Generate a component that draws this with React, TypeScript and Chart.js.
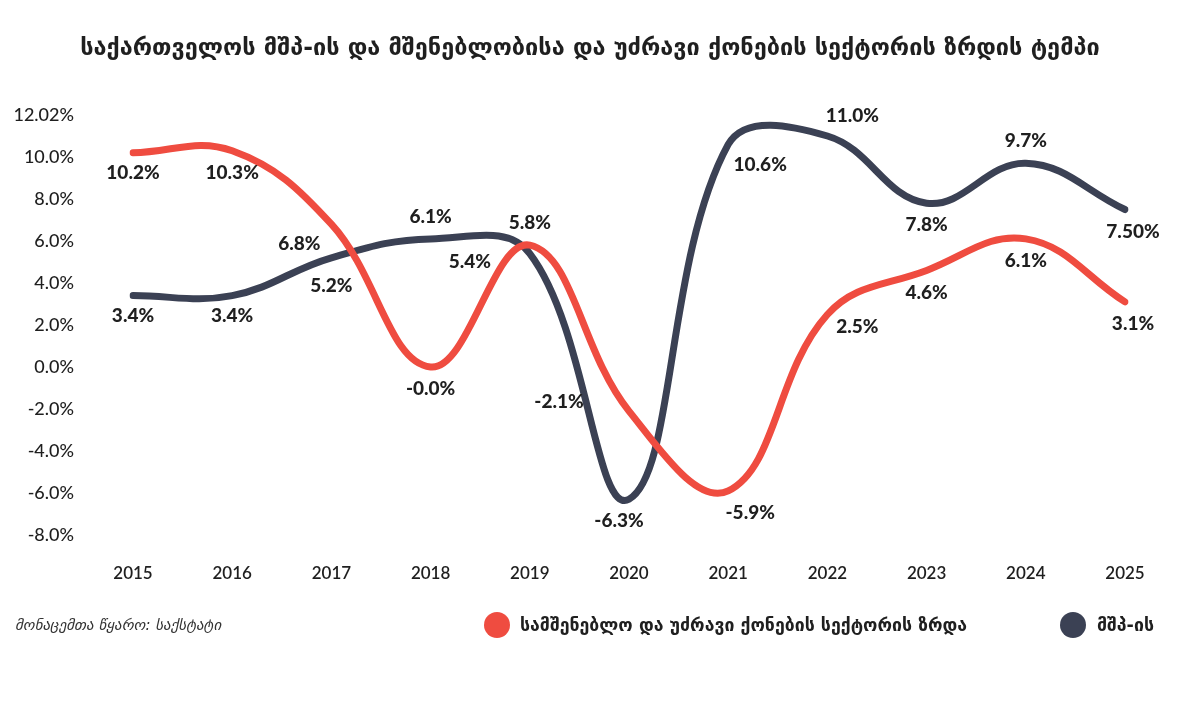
import React, { useEffect, useRef } from "react";
import { Chart, registerables } from "chart.js";

Chart.register(...registerables);

// ---- data ----
const years = ["2015", "2016", "2017", "2018", "2019", "2020", "2021", "2022", "2023", "2024", "2025"];
const constructionGrowth = [10.2, 10.3, 6.8, -0.0, 5.8, -2.1, -5.9, 2.5, 4.6, 6.1, 3.1];
const gdpGrowth = [3.4, 3.4, 5.2, 6.1, 5.4, -6.3, 10.6, 11.0, 7.8, 9.7, 7.5];
const constructionLabels = ["10.2%", "10.3%", "6.8%", "-0.0%", "5.8%", "-2.1%", "-5.9%", "2.5%", "4.6%", "6.1%", "3.1%"];
const gdpLabels = ["3.4%", "3.4%", "5.2%", "6.1%", "5.4%", "-6.3%", "10.6%", "11.0%", "7.8%", "9.7%", "7.50%"];
const yTickValues = [-8, -6, -4, -2, 0, 2, 4, 6, 8, 10, 12];
const yTickLabels = ["-8.0%", "-6.0%", "-4.0%", "-2.0%", "0.0%", "2.0%", "4.0%", "6.0%", "8.0%", "10.0%", "12.02%"];

const titleText = "საქართველოს მშპ-ის და მშენებლობისა და უძრავი ქონების სექტორის ზრდის ტემპი";
const constructionName = "სამშენებლო და უძრავი ქონების სექტორის ზრდა";
const gdpName = "მშპ-ის";
const sourceText = "მონაცემთა წყარო: საქსტატი";

// ---- label placement (pixel offsets from each point) ----
const constructionOffsets: [number, number][] = [
  [0, 20], [0, 22], [-32, 20], [0, 22], [0, -22], [-70, -9], [22, 22], [30, 12], [0, 22], [0, 22], [8, 22],
];
const gdpOffsets: [number, number][] = [
  [0, 20], [0, 20], [0, 28], [0, -22], [-60, 8], [-10, 22], [32, 20], [25, -20], [0, 22], [0, -22], [8, 22],
];

const RED = "#EF4C40";
const NAVY = "#3B4154";
const TEXT = "#1f1f1f";
const NUM_FONT = "Lato, 'DejaVu Sans', sans-serif";
const GEO_FONT = "'DejaVu Sans', Lato, sans-serif";

const labelPlugin = {
  id: "pointLabels",
  afterDatasetsDraw(chart: any) {
    const ctx = chart.ctx;
    const sets = [
      { labels: constructionLabels, offsets: constructionOffsets },
      { labels: gdpLabels, offsets: gdpOffsets },
    ];
    ctx.save();
    ctx.font = `900 19px ${NUM_FONT}`;
    ctx.fillStyle = TEXT;
    ctx.textAlign = "center";
    ctx.textBaseline = "middle";
    sets.forEach((s, di) => {
      const meta = chart.getDatasetMeta(di);
      meta.data.forEach((pt: any, i: number) => {
        const [dx, dy] = s.offsets[i];
        ctx.fillText(s.labels[i], pt.x + dx, pt.y + dy);
      });
    });
    ctx.restore();
  },
};

function LineChart() {
  const ref = useRef<HTMLCanvasElement | null>(null);
  useEffect(() => {
    if (!ref.current) return;
    const chart = new Chart(ref.current, {
      type: "line",
      data: {
        labels: years,
        datasets: [
          {
            label: constructionName,
            data: constructionGrowth,
            borderColor: RED,
            backgroundColor: RED,
            borderWidth: 7,
            borderCapStyle: "round",
            borderJoinStyle: "round",
            pointRadius: 0,
            tension: 0.4,
          },
          {
            label: gdpName,
            data: gdpGrowth,
            borderColor: NAVY,
            backgroundColor: NAVY,
            borderWidth: 7,
            borderCapStyle: "round",
            borderJoinStyle: "round",
            pointRadius: 0,
            tension: 0.4,
          },
        ],
      },
      options: {
        responsive: false,
        animation: false,
        layout: { padding: { left: 0, right: 72, top: 115, bottom: 130 } },
        plugins: { legend: { display: false }, tooltip: { enabled: false }, title: { display: false } },
        scales: {
          x: {
            grid: { display: false, drawTicks: false },
            border: { display: false },
            ticks: { color: TEXT, padding: 28, font: { family: NUM_FONT, size: 17, weight: "600" } },
            afterFit: (scale: any) => {
              scale.height = 50;
            },
          },
          y: {
            min: -8,
            max: 12,
            grid: { display: false, drawTicks: false },
            border: { display: false },
            afterBuildTicks: (scale: any) => {
              scale.ticks = yTickValues.map((v) => ({ value: v }));
            },
            ticks: {
              color: TEXT,
              padding: 59,
              font: { family: NUM_FONT, size: 18, weight: "500" },
              callback: (v: any) => {
                const idx = yTickValues.indexOf(Number(v));
                return idx >= 0 ? yTickLabels[idx] : "";
              },
            },
            afterFit: (scale: any) => {
              scale.width = 133;
            },
          },
        },
      },
      plugins: [labelPlugin],
    } as any);
    return () => chart.destroy();
  }, []);
  return (
    <canvas
      ref={ref}
      width={1197}
      height={715}
      style={{ position: "absolute", left: 0, top: 0, width: 1197, height: 715 }}
    />
  );
}

export default function App() {
  return (
    <div
      style={{
        position: "absolute",
        left: 0,
        top: 0,
        width: 1197,
        height: 715,
        background: "#ffffff",
        overflow: "hidden",
      }}
    >
      <LineChart />
      <div
        style={{
          position: "absolute",
          left: 0,
          top: 29,
          width: 1180,
          textAlign: "center",
          fontFamily: GEO_FONT,
          fontWeight: 700,
          fontSize: 23.5,
          lineHeight: "36px",
          color: TEXT,
          whiteSpace: "nowrap",
        }}
      >
        {titleText}
      </div>
      <div
        style={{
          position: "absolute",
          left: 15,
          top: 614,
          fontFamily: GEO_FONT,
          fontStyle: "italic",
          fontSize: 15,
          lineHeight: "22px",
          color: "#333",
          whiteSpace: "nowrap",
        }}
      >
        {sourceText}
      </div>
      <div style={{ position: "absolute", left: 484, top: 612, width: 26, height: 26, borderRadius: 13, background: RED }} />
      <div
        style={{
          position: "absolute",
          left: 520,
          top: 612,
          fontFamily: GEO_FONT,
          fontWeight: 600,
          fontSize: 17.7,
          lineHeight: "26px",
          color: TEXT,
          whiteSpace: "nowrap",
        }}
      >
        {constructionName}
      </div>
      <div style={{ position: "absolute", left: 1060, top: 612, width: 26, height: 26, borderRadius: 13, background: NAVY }} />
      <div
        style={{
          position: "absolute",
          left: 1097,
          top: 612,
          fontFamily: GEO_FONT,
          fontWeight: 600,
          fontSize: 17.7,
          lineHeight: "26px",
          color: TEXT,
          whiteSpace: "nowrap",
        }}
      >
        {gdpName}
      </div>
    </div>
  );
}
